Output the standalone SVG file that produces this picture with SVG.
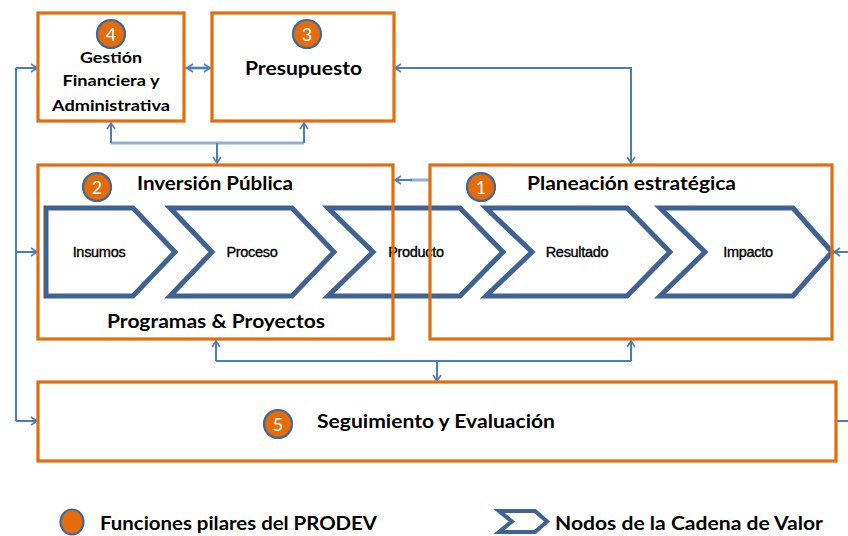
<svg xmlns="http://www.w3.org/2000/svg" width="848" height="536" viewBox="0 0 848 536">
<defs>
<style>
.box{fill:none;stroke:#E46C0A;stroke-width:3.2}
.chev{fill:#ffffff;stroke:#3F6293;stroke-width:5;stroke-linejoin:miter}
.conn{fill:none;stroke:#4A7EBB;stroke-width:2}
.connl{fill:none;stroke:#8EB0DA;stroke-width:3}
.badge{fill:#E46C0A;stroke:#41689C;stroke-width:2.2}
.num{font-family:Lato,"Liberation Sans",sans-serif;font-size:18px;fill:#ffffff;text-anchor:middle}
.t{font-family:Lato,"Liberation Sans",sans-serif;font-weight:bold;fill:#000000;text-anchor:middle}
.c{font-family:"Liberation Sans",Arial,sans-serif;font-size:14.5px;fill:#000000;stroke:#000000;stroke-width:0.35px;text-anchor:middle;letter-spacing:-0.3px}
.lg{font-family:Lato,"Liberation Sans",sans-serif;font-weight:bold;font-size:19px;fill:#000000}
</style>
<marker id="ah" markerUnits="userSpaceOnUse" markerWidth="10" markerHeight="10" refX="8" refY="5" orient="auto-start-reverse">
<path d="M2,1 L8,5 L2,9" fill="none" stroke="#4A7EBB" stroke-width="1.6"/>
</marker>
</defs>
<rect x="0" y="0" width="848" height="536" fill="#ffffff"/>

<g id="value-chain">
<g id="chev-insumos"><path class="chev" d="M46,208 H133 L175,252 L133,296 H46 Z"/><text class="c" x="99" y="257">Insumos</text></g>
<g id="chev-proceso"><path class="chev" d="M170,208 H292 L334,252 L292,296 H170 L212,252 Z"/><text class="c" x="252" y="257">Proceso</text></g>
<g id="chev-producto"><path class="chev" d="M328,208 H460 L503,252 L460,296 H328 L373,252 Z"/><text class="c" x="416" y="257">Producto</text></g>
<g id="chev-resultado"><path class="chev" d="M486,208 H627 L670,252 L627,296 H486 L532,252 Z"/><text class="c" x="577" y="257">Resultado</text></g>
<g id="chev-impacto"><path class="chev" d="M660,208 H793 L832,252 L793,296 H660 L705,252 Z"/><text class="c" x="748" y="257">Impacto</text></g>
</g>

<g id="connectors">
<path class="connl" d="M185,68 H212"/>
<path class="conn" d="M187,68 H210" marker-start="url(#ah)" marker-end="url(#ah)"/>
<path class="conn" d="M631,163 V68 H395" marker-start="url(#ah)" marker-end="url(#ah)"/>
<path class="connl" d="M111,143 H304"/>
<path class="conn" d="M111,143 V123" marker-end="url(#ah)"/>
<path class="conn" d="M304,143 V123" marker-end="url(#ah)"/>
<path class="conn" d="M217,143 V163" marker-end="url(#ah)"/>
<path class="connl" d="M430,180 H410"/>
<path class="conn" d="M412,180 H395" marker-end="url(#ah)"/>
<path class="conn" d="M216,361 H631"/>
<path class="conn" d="M216,361 V341" marker-end="url(#ah)"/>
<path class="conn" d="M631,361 V341" marker-end="url(#ah)"/>
<path class="conn" d="M437,361 V381" marker-end="url(#ah)"/>
<path class="conn" d="M16,68 V421"/>
<path class="conn" d="M16,68 H37" marker-end="url(#ah)"/>
<path class="conn" d="M16,252 H37" marker-end="url(#ah)"/>
<path class="conn" d="M16,421 H37" marker-end="url(#ah)"/>
<path class="conn" d="M837,421 H856 V252 H834" marker-end="url(#ah)"/>
</g>

<g id="node-4">
<rect class="box" x="38" y="13" width="146" height="108"/>
<circle class="badge" cx="111" cy="34" r="14"/>
<text class="num" x="111" y="40.5">4</text>
<text class="t" x="111" y="63" font-size="15.5" textLength="62" lengthAdjust="spacingAndGlyphs">Gestión</text>
<text class="t" x="111" y="86" font-size="15.5" textLength="97" lengthAdjust="spacingAndGlyphs">Financiera y</text>
<text class="t" x="111" y="111" font-size="15.5" textLength="118" lengthAdjust="spacingAndGlyphs">Administrativa</text>
</g>

<g id="node-3">
<rect class="box" x="212" y="13" width="182" height="108"/>
<circle class="badge" cx="307" cy="34" r="14"/>
<text class="num" x="307" y="40.5">3</text>
<text class="t" x="303.5" y="75" font-size="19" textLength="117" lengthAdjust="spacingAndGlyphs">Presupuesto</text>
</g>

<g id="node-2">
<rect class="box" x="38" y="165" width="355" height="174"/>
<circle class="badge" cx="97" cy="187" r="14"/>
<text class="num" x="97" y="193.5">2</text>
<text class="t" x="215" y="190" font-size="19" textLength="156" lengthAdjust="spacingAndGlyphs">Inversión Pública</text>
<text class="t" x="216" y="328" font-size="19" textLength="218" lengthAdjust="spacingAndGlyphs">Programas &amp; Proyectos</text>
</g>

<g id="node-1">
<rect class="box" x="430" y="165" width="402" height="174"/>
<circle class="badge" cx="481" cy="187" r="14"/>
<text class="num" x="481" y="193.5">1</text>
<text class="t" x="631.5" y="190" font-size="19" textLength="209" lengthAdjust="spacingAndGlyphs">Planeación estratégica</text>
</g>

<g id="node-5">
<rect class="box" x="38" y="382" width="798" height="79"/>
<circle class="badge" cx="278" cy="424" r="14"/>
<text class="num" x="278" y="430.5">5</text>
<text class="t" x="436" y="428" font-size="19" textLength="238" lengthAdjust="spacingAndGlyphs">Seguimiento y Evaluación</text>
</g>

<g id="legend">
<ellipse class="badge" cx="72" cy="522" rx="11.5" ry="12.5"/>
<text class="lg" x="100" y="530" textLength="277" lengthAdjust="spacingAndGlyphs">Funciones pilares del PRODEV</text>
<path d="M499,511 H535 L547,521.5 L535,532 H499 L512,521.5 Z" fill="#ffffff" stroke="#3F6293" stroke-width="4"/>
<text class="lg" x="555" y="530" textLength="268" lengthAdjust="spacingAndGlyphs">Nodos de la Cadena de Valor</text>
</g>
</svg>
